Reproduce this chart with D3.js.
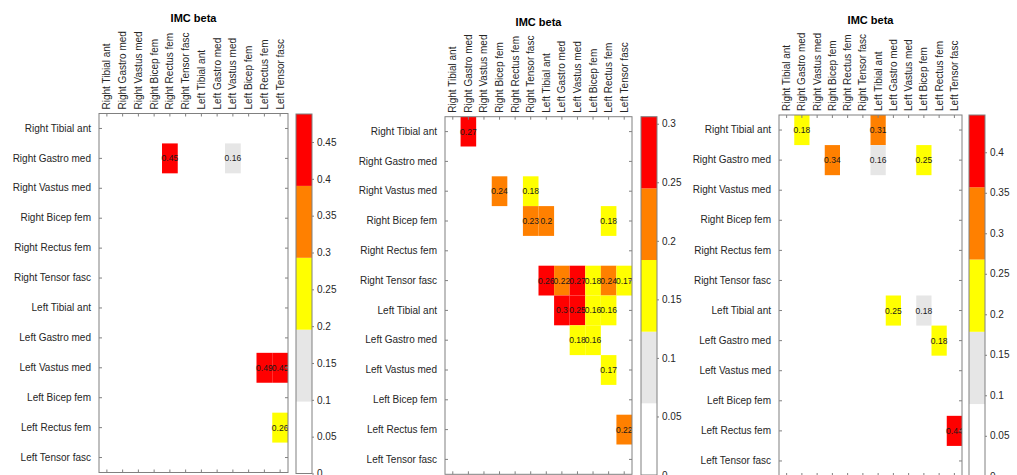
<!DOCTYPE html>
<html lang="en">

<head>
    <meta charset="UTF-8">
    <title>IMC beta</title>
    <script src="https://d3js.org/d3.v7.min.js"></script>
    <style>
        body {
            margin: 0;
            background: #fff;
        }

        svg text {
            font-family: "Liberation Sans", Arial, sans-serif;
        }
    </style>
</head>

<body>
    <svg width="1017" height="475"></svg>
    <script>
        const muscles = ["Right Tibial ant", "Right Gastro med", "Right Vastus med", "Right Bicep fem",
            "Right Rectus fem", "Right Tensor fasc", "Left Tibial ant", "Left Gastro med",
            "Left Vastus med", "Left Bicep fem", "Left Rectus fem", "Left Tensor fasc"];

        // non-zero cells: [row, column, value]
        const cells1 = [[1, 4, 0.45], [1, 8, 0.16], [8, 10, 0.488], [8, 11, 0.45], [10, 11, 0.26]];
        const cells2 = [[0, 1, 0.27], [2, 3, 0.24], [2, 5, 0.18], [3, 5, 0.23], [3, 6, 0.2], [3, 10, 0.18],
            [5, 6, 0.26], [5, 7, 0.22], [5, 8, 0.27], [5, 9, 0.18], [5, 10, 0.24], [5, 11, 0.17],
            [6, 7, 0.304], [6, 8, 0.25], [6, 9, 0.16], [6, 10, 0.16], [7, 8, 0.18], [7, 9, 0.16],
            [8, 10, 0.17], [10, 11, 0.22]];
        const cells3 = [[0, 1, 0.18], [0, 6, 0.31], [1, 3, 0.34], [1, 6, 0.16], [1, 9, 0.25],
            [6, 7, 0.25], [6, 9, 0.176], [7, 10, 0.18], [10, 11, 0.444]];

        const climMax = [0.488, 0.306, 0.446];
        const cbarTicks1 = [0, 0.05, 0.1, 0.15, 0.2, 0.25, 0.3, 0.35, 0.4, 0.45];
        const cbarTicks2 = [0, 0.05, 0.1, 0.15, 0.2, 0.25, 0.3];
        const cbarTicks3 = [0, 0.05, 0.1, 0.15, 0.2, 0.25, 0.3, 0.35, 0.4];
        const cmap = ["#ffffff", "#e6e6e6", "#ffff00", "#ff8000", "#ff0000"];
        const title = "IMC beta";

        const panels = [
            { cells: cells1, max: climMax[0], ticks: cbarTicks1, plot: [99, 288, 113.5, 472.5], bar: [296, 312, 114, 473.5] },
            { cells: cells2, max: climMax[1], ticks: cbarTicks2, plot: [445, 632, 116.7, 474.3], bar: [641, 657, 116.7, 475] },
            { cells: cells3, max: climMax[2], ticks: cbarTicks3, plot: [779, 962, 115, 476], bar: [969, 985, 115, 476.3] }
        ];

        const svg = d3.select("svg");
        const axisColor = "#808080";
        const textColor = "#262626";
        const fmt = v => String(+v.toFixed(2));

        panels.forEach((p, i) => {
            const [x0, x1, y0, y1] = p.plot;
            const x = d3.scaleBand().domain(muscles).range([x0, x1]);
            const y = d3.scaleBand().domain(muscles).range([y0, y1]);
            const color = d3.scaleQuantize().domain([0, p.max]).range(cmap);

            const g = svg.append("g");

            svg.append("clipPath").attr("id", "clip" + i)
                .append("rect").attr("x", x0).attr("y", y0).attr("width", x1 - x0).attr("height", y1 - y0);

            const cg = g.append("g").attr("clip-path", `url(#clip${i})`);
            cg.selectAll("rect")
                .data(p.cells)
                .enter()
                .append("rect")
                .attr("x", d => x(muscles[d[1]]))
                .attr("y", d => y(muscles[d[0]]))
                .attr("width", x.bandwidth())
                .attr("height", y.bandwidth())
                .attr("fill", d => color(Math.min(d[2], p.max * 0.9999)));

            cg.selectAll("text")
                .data(p.cells)
                .enter()
                .append("text")
                .attr("x", d => x(muscles[d[1]]) + x.bandwidth() / 2)
                .attr("y", d => y(muscles[d[0]]) + y.bandwidth() / 2)
                .attr("text-anchor", "middle")
                .attr("dy", "0.35em")
                .attr("font-size", "8.5px")
                .attr("fill", "#1a1a1a")
                .text(d => fmt(d[2]));

            // axes: labels on left and top, ticks inward on all four sides
            const left = g.append("g").attr("transform", `translate(${x0},0)`)
                .call(d3.axisLeft(y).tickSizeInner(-3).tickSizeOuter(0).tickPadding(8));
            const top = g.append("g").attr("transform", `translate(0,${y0})`)
                .call(d3.axisTop(x).tickSizeInner(-3).tickSizeOuter(0).tickPadding(4));
            const right = g.append("g").attr("transform", `translate(${x1},0)`)
                .call(d3.axisRight(y).tickSizeInner(-3).tickSizeOuter(0).tickFormat(""));
            const bottom = g.append("g").attr("transform", `translate(0,${y1})`)
                .call(d3.axisBottom(x).tickSizeInner(-3).tickSizeOuter(0).tickFormat(""));

            [left, top, right, bottom].forEach(a => {
                a.select(".domain").remove();
                a.selectAll("line").attr("stroke", axisColor);
                a.selectAll("text").attr("font-size", "10px").attr("fill", textColor).attr("font-family", null);
            });

            top.selectAll("text")
                .attr("transform", "rotate(-90)")
                .attr("x", 4)
                .attr("y", 0)
                .attr("dy", "0.35em")
                .attr("text-anchor", "start");

            g.append("rect")
                .attr("x", x0).attr("y", y0)
                .attr("width", x1 - x0).attr("height", y1 - y0)
                .attr("fill", "none").attr("stroke", axisColor);

            g.append("text")
                .attr("x", (x0 + x1) / 2)
                .attr("y", y0 - 95)
                .attr("text-anchor", "middle")
                .attr("dy", "0.35em")
                .attr("font-size", "11px")
                .attr("font-weight", "bold")
                .attr("fill", "#000")
                .text(title);

            // colorbar
            const [bx0, bx1, by0, by1] = p.bar;
            const cb = d3.scaleLinear().domain([0, p.max]).range([by1, by0]);
            const step = p.max / cmap.length;
            g.append("g").selectAll("rect")
                .data(cmap)
                .enter()
                .append("rect")
                .attr("x", bx0)
                .attr("y", (d, k) => cb((k + 1) * step))
                .attr("width", bx1 - bx0)
                .attr("height", (d, k) => cb(k * step) - cb((k + 1) * step))
                .attr("fill", d => d);

            const cax = g.append("g").attr("transform", `translate(${bx1},0)`)
                .call(d3.axisRight(cb).tickValues(p.ticks).tickFormat(d => fmt(d)).tickSizeInner(2).tickSizeOuter(0).tickPadding(3));
            cax.select(".domain").remove();
            cax.selectAll("line").attr("stroke", axisColor);
            cax.selectAll("text").attr("font-size", "10px").attr("fill", textColor).attr("font-family", null);

            g.append("rect")
                .attr("x", bx0).attr("y", by0)
                .attr("width", bx1 - bx0).attr("height", by1 - by0)
                .attr("fill", "none").attr("stroke", axisColor);
        });
    </script>
</body>

</html>
